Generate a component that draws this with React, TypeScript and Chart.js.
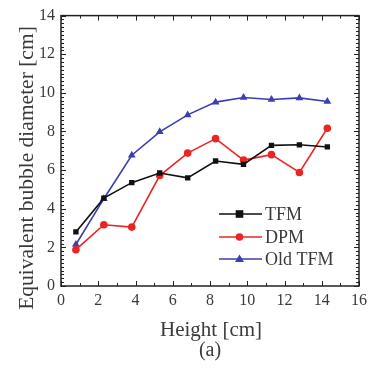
import React, { useEffect, useRef } from "react";
import { Chart, registerables } from "chart.js";

Chart.register(...registerables);

const heights = [0.8, 2.3, 3.8, 5.3, 6.8, 8.3, 9.8, 11.3, 12.8, 14.3];
const tfm = [2.8, 4.55, 5.35, 5.85, 5.6, 6.47, 6.3, 7.28, 7.31, 7.2];
const dpm = [1.88, 3.17, 3.05, 5.72, 6.88, 7.63, 6.52, 6.8, 5.88, 8.17];
const oldTfm = [2.15, 4.52, 6.77, 7.98, 8.86, 9.52, 9.76, 9.66, 9.74, 9.55];

const seriesNames = ["TFM", "DPM", "Old TFM"];
const seriesColors = ["#111111", "#ec2424", "#3a3fb2"];
const seriesMarkers = ["rect", "circle", "triangle"];

const xTitle = "Height [cm]";
const yTitle = "Equivalent bubble diameter [cm]";
const caption = "(a)";

const FONT = "'Liberation Serif', 'Times New Roman', serif";
const TEXT = "#3a3a3a";

const decorPlugin = {
  id: "decor",
  afterDraw(chart: any) {
    const ctx = chart.ctx;
    const ca = chart.chartArea;
    const xs = chart.scales.x;
    const ys = chart.scales.y;
    ctx.save();
    ctx.strokeStyle = "#222";
    ctx.lineWidth = 1;
    for (let v = 0; v <= 16; v += 1) {
      const px = Math.round(xs.getPixelForValue(v)) + 0.5;
      const len = v % 2 === 0 ? 5 : 3;
      ctx.beginPath();
      ctx.moveTo(px, ca.bottom);
      ctx.lineTo(px, ca.bottom - len);
      ctx.moveTo(px, ca.top);
      ctx.lineTo(px, ca.top + len);
      ctx.stroke();
    }
    for (let i = 0; i <= 70; i++) {
      const v = i * 0.2;
      const py = Math.round(ys.getPixelForValue(v)) + 0.5;
      const len = i % 10 === 0 ? 5 : 3;
      ctx.beginPath();
      ctx.moveTo(ca.left, py);
      ctx.lineTo(ca.left + len, py);
      ctx.moveTo(ca.right, py);
      ctx.lineTo(ca.right - len, py);
      ctx.stroke();
    }
    ctx.lineWidth = 1.5;
    ctx.strokeRect(ca.left, ca.top, ca.right - ca.left, ca.bottom - ca.top);

    ctx.fillStyle = TEXT;
    ctx.textAlign = "center";
    ctx.textBaseline = "middle";
    ctx.font = `21px ${FONT}`;
    ctx.fillText(xTitle, (ca.left + ca.right) / 2 + 1, 330);
    ctx.font = `20px ${FONT}`;
    ctx.fillText(caption, (ca.left + ca.right) / 2, 351);
    ctx.save();
    ctx.translate(27, 168);
    ctx.rotate(-Math.PI / 2);
    ctx.font = `21.5px ${FONT}`;
    ctx.fillText(yTitle, 0, 0);
    ctx.restore();

    const rowsY = [214, 237, 259];
    ctx.font = `18px ${FONT}`;
    ctx.textAlign = "left";
    for (let i = 0; i < 3; i++) {
      const y = rowsY[i];
      ctx.strokeStyle = seriesColors[i];
      ctx.fillStyle = seriesColors[i];
      ctx.lineWidth = 1.6;
      ctx.beginPath();
      ctx.moveTo(219, y);
      ctx.lineTo(262, y);
      ctx.stroke();
      const r = 3.8;
      if (seriesMarkers[i] === "rect") {
        ctx.fillRect(239.5 - r, y - r, 2 * r, 2 * r);
      } else if (seriesMarkers[i] === "circle") {
        ctx.beginPath();
        ctx.arc(239.5, y, r, 0, Math.PI * 2);
        ctx.fill();
      } else {
        ctx.beginPath();
        ctx.moveTo(239.5, y - 4.5);
        ctx.lineTo(239.5 + 4.5, y + 3);
        ctx.lineTo(239.5 - 4.5, y + 3);
        ctx.closePath();
        ctx.fill();
      }
      ctx.fillStyle = TEXT;
      ctx.fillText(seriesNames[i], 265, y + 1);
    }
    ctx.restore();
  },
};

export default function App() {
  const ref = useRef<HTMLCanvasElement>(null);
  useEffect(() => {
    if (!ref.current) return;
    const seriesData = [tfm, dpm, oldTfm];
    const chart = new Chart(ref.current, {
      type: "line",
      data: {
        datasets: seriesData.map((vals, i) => ({
          label: seriesNames[i],
          data: heights.map((h, j) => ({ x: h, y: vals[j] })),
          borderColor: seriesColors[i],
          backgroundColor: seriesColors[i],
          borderWidth: 1.6,
          pointStyle: seriesMarkers[i] as any,
          pointRadius: i === 2 ? 4.5 : 3.8,
          pointBorderWidth: 0,
          tension: 0,
        })),
      },
      options: {
        responsive: false,
        animation: false,
        layout: { padding: { left: 0, top: 14, right: 12, bottom: 0 } },
        plugins: { legend: { display: false }, tooltip: { enabled: false } },
        scales: {
          x: {
            type: "linear",
            min: 0,
            max: 16,
            ticks: { stepSize: 2, color: TEXT, font: { family: FONT, size: 16 }, padding: 5 },
            grid: { display: false, drawTicks: false },
            border: { display: false },
            afterFit: (s: any) => {
              s.height = 86;
            },
          },
          y: {
            type: "linear",
            min: 0,
            max: 14,
            ticks: { stepSize: 2, color: TEXT, font: { family: FONT, size: 16 }, padding: 6 },
            grid: { display: false, drawTicks: false },
            border: { display: false },
            afterFit: (s: any) => {
              s.width = 61;
            },
          },
        },
      },
      plugins: [decorPlugin],
    });
    return () => chart.destroy();
  }, []);
  return (
    <div style={{ position: "absolute", left: 0, top: 0, width: 372, height: 372, background: "#fff" }}>
      <canvas ref={ref} width={372} height={372} />
    </div>
  );
}
